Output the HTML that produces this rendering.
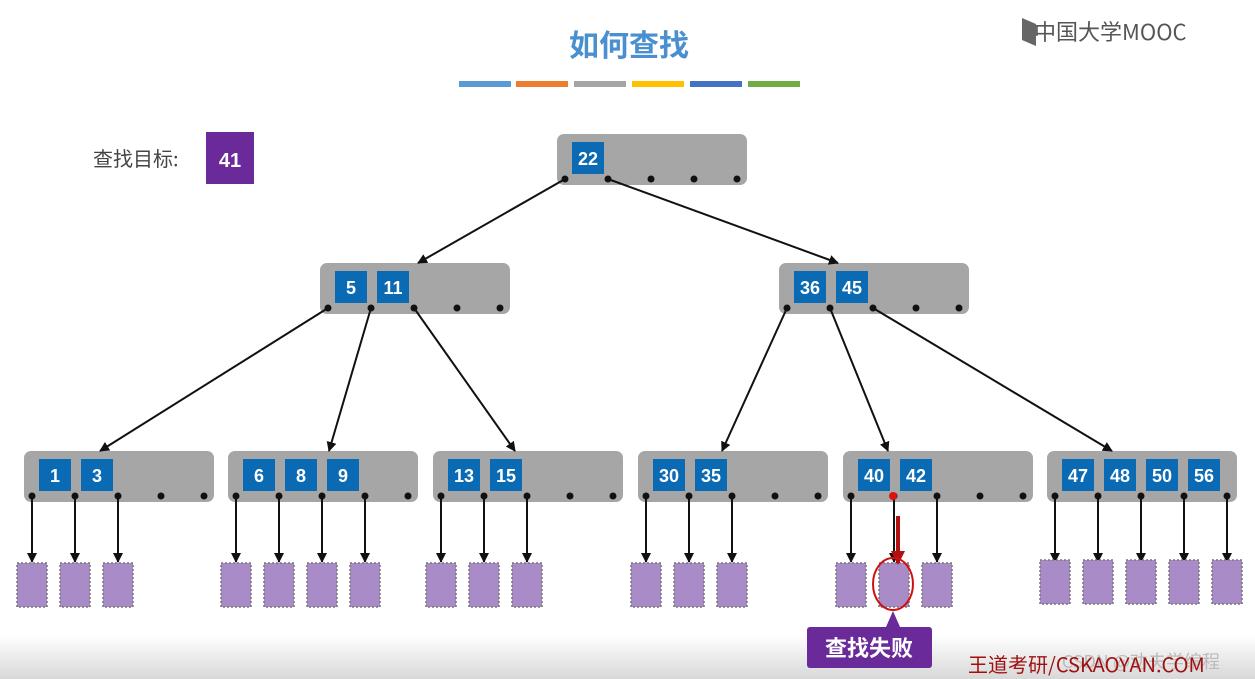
<!DOCTYPE html>
<html><head><meta charset="utf-8"><style>
body{margin:0;width:1255px;height:679px;overflow:hidden;background:#fff;font-family:"Liberation Sans","Noto Sans CJK SC",sans-serif;}
</style></head><body>
<svg width="1255" height="679" xmlns="http://www.w3.org/2000/svg" style="position:absolute;left:0;top:0">
<defs>
<marker id="a" markerWidth="10" markerHeight="10" refX="9" refY="5" orient="auto" markerUnits="userSpaceOnUse"><path d="M0,0 L10,5 L0,10 z" fill="#111"/></marker>
<marker id="r" markerWidth="14" markerHeight="14" refX="12" refY="7" orient="auto" markerUnits="userSpaceOnUse"><path d="M0,0 L14,7 L0,14 z" fill="#b01010"/></marker>
<linearGradient id="g" x1="0" y1="0" x2="0" y2="1"><stop offset="0" stop-color="#fff"/><stop offset="1" stop-color="#d8d8d8"/></linearGradient>
</defs>
<rect x="0" y="635" width="1255" height="44" fill="url(#g)"/>
<text x="629" y="56" text-anchor="middle" font-size="30" font-weight="bold" fill="#4a8fd0" font-family="Noto Sans CJK SC,sans-serif">如何查找</text>
<rect x="459" y="81" width="52" height="6" fill="#5b9bd5"/>
<rect x="516" y="81" width="52" height="6" fill="#ed7d31"/>
<rect x="574" y="81" width="52" height="6" fill="#a5a5a5"/>
<rect x="632" y="81" width="52" height="6" fill="#ffc000"/>
<rect x="690" y="81" width="52" height="6" fill="#4472c4"/>
<rect x="748" y="81" width="52" height="6" fill="#70ad47"/>
<path d="M1022,18 L1036,24 L1036,46 L1022,40 z" fill="#666"/>
<text x="1034" y="40" font-size="22" fill="#555" font-family="Noto Sans CJK SC,sans-serif">中国大学MOOC</text>
<text x="93" y="166" font-size="20" fill="#444" font-family="Noto Sans CJK SC,sans-serif">查找目标:</text>
<rect x="206" y="132" width="48" height="52" fill="#6a2a9a"/>
<text x="230" y="167" text-anchor="middle" font-size="20" font-weight="bold" fill="#fff">41</text>
<g id="tree"></g>
<text x="1220" y="668" text-anchor="end" font-size="18" fill="#bbb" font-family="Noto Sans CJK SC,sans-serif">CSDN @劝夫学编程</text>
<text x="968" y="672" font-size="20" fill="#a01010" font-family="Noto Sans CJK SC,sans-serif">王道考研/CSKAOYAN.COM</text>
</svg>
<script>
var s='',NS=document.getElementById('tree');
function node(x,y,keys){s+='<rect x="'+x+'" y="'+y+'" width="190" height="51" rx="7" fill="#a6a6a6"/>';
keys.forEach(function(k,i){var kx=x+15+42*i;s+='<rect x="'+kx+'" y="'+(y+8)+'" width="32" height="32" fill="#0a6ab4"/><text x="'+(kx+16)+'" y="'+(y+31)+'" text-anchor="middle" font-size="18" font-weight="bold" fill="#fff">'+k+'</text>';});
var d=[];for(var i=0;i<5;i++){var dx=x+8+43*i;d.push(dx);s+='<circle cx="'+dx+'" cy="'+(y+45)+'" r="3.5" fill="#111"/>';}return d;}
function arr(x1,y1,x2,y2){s+='<line x1="'+x1+'" y1="'+y1+'" x2="'+x2+'" y2="'+y2+'" stroke="#111" stroke-width="2" marker-end="url(#a)"/>';}
var r=node(557,134,['22']);
var L=node(320,263,['5','11']),R=node(779,263,['36','45']);
arr(r[0],179,418,263);arr(r[1],179,838,263);
var xs=[24,228,433,638,843,1047],ks=[['1','3'],['6','8','9'],['13','15'],['30','35'],['40','42'],['47','48','50','56']];
var tops=[100,329,515,722,888,1112];
var nd=xs.map(function(x,i){return node(x,451,ks[i]);});
arr(L[0],308,tops[0],451);arr(L[1],308,tops[1],451);arr(L[2],308,tops[2],451);
arr(R[0],308,tops[3],451);arr(R[1],308,tops[4],451);arr(R[2],308,tops[5],451);
nd.forEach(function(d,i){var n=ks[i].length+1;for(var j=0;j<n;j++){var cx=d[j];arr(cx,496,cx,562);s+='<rect x="'+(cx-15)+'" y="'+(i==5?560:563)+'" width="30" height="44" fill="#a98bc8" stroke="#777" stroke-width="1.5" stroke-dasharray="2,2"/>';}});
s+='<circle cx="893" cy="496" r="4" fill="#e01010"/>';
s+='<line x1="898" y1="516" x2="898" y2="563" stroke="#b01010" stroke-width="4" marker-end="url(#r)"/>';
s+='<ellipse cx="893" cy="584" rx="20" ry="26" fill="none" stroke="#d01010" stroke-width="2"/>';
s+='<path d="M886,627 L893,611 L900,627 z" fill="#6a2a9a"/><rect x="807" y="627" width="125" height="41" rx="3" fill="#6a2a9a"/><text x="869" y="656" text-anchor="middle" font-size="22" font-weight="bold" fill="#fff" font-family="Noto Sans CJK SC,sans-serif">查找失败</text>';
NS.innerHTML=s;
</script>
</body></html>
